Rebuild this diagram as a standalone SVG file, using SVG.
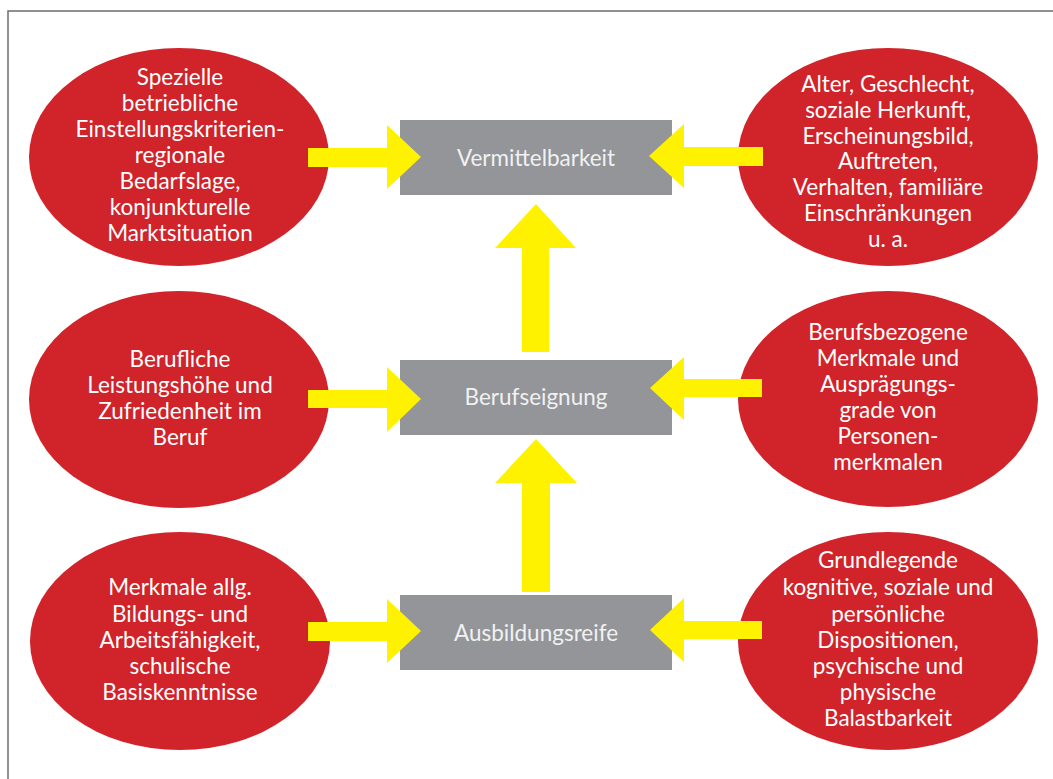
<svg xmlns="http://www.w3.org/2000/svg" width="1053" height="779" viewBox="0 0 1053 779">
<style>
.oval{fill:#d1232a}
.box{fill:#939598}
.arr{fill:#fff200}
.t{font-family:Lato,"Open Sans",sans-serif;font-size:22.5px;fill:#ffffff;text-anchor:middle}
.bt{font-family:Lato,"Open Sans",sans-serif;font-size:22.5px;fill:#f1f1f2;text-anchor:middle}
</style>
<rect x="0" y="0" width="1053" height="779" fill="#ffffff"/>
<rect x="8" y="11" width="1100" height="800" fill="none" stroke="#6d6e71" stroke-width="1.5"/>

<g id="n-vermittelbarkeit">
<rect class="box" x="400" y="120" width="272" height="75"/>
<text class="bt" x="536" y="166">Vermittelbarkeit</text>
</g>
<g id="n-berufseignung">
<rect class="box" x="400" y="360" width="272" height="75"/>
<text class="bt" x="536" y="405">Berufseignung</text>
</g>
<g id="n-ausbildungsreife">
<rect class="box" x="400" y="595" width="272" height="75"/>
<text class="bt" x="536" y="641">Ausbildungsreife</text>
</g>

<g id="n-tl">
<ellipse class="oval" cx="179" cy="157" rx="150" ry="109"/>
<text class="t" x="180" y="85">Spezielle</text>
<text class="t" x="180" y="111">betriebliche</text>
<text class="t" x="180" y="137">Einstellungskriterien-</text>
<text class="t" x="180" y="163">regionale</text>
<text class="t" x="180" y="189">Bedarfslage,</text>
<text class="t" x="180" y="215">konjunkturelle</text>
<text class="t" x="180" y="241">Marktsituation</text>
</g>
<g id="n-tr">
<ellipse class="oval" cx="888" cy="157" rx="150" ry="109"/>
<text class="t" x="888" y="92">Alter, Geschlecht,</text>
<text class="t" x="888" y="118">soziale Herkunft,</text>
<text class="t" x="888" y="144">Erscheinungsbild,</text>
<text class="t" x="888" y="169">Auftreten,</text>
<text class="t" x="888" y="195">Verhalten, familiäre</text>
<text class="t" x="888" y="221">Einschränkungen</text>
<text class="t" x="888" y="247">u. a.</text>
</g>
<g id="n-ml">
<ellipse class="oval" cx="179" cy="399.5" rx="150" ry="108.5"/>
<text class="t" x="180" y="367">Berufliche</text>
<text class="t" x="180" y="393">Leistungshöhe und</text>
<text class="t" x="180" y="419">Zufriedenheit im</text>
<text class="t" x="180" y="445">Beruf</text>
</g>
<g id="n-mr">
<ellipse class="oval" cx="888" cy="399" rx="150" ry="108"/>
<text class="t" x="888" y="340">Berufsbezogene</text>
<text class="t" x="888" y="366">Merkmale und</text>
<text class="t" x="888" y="392">Ausprägungs-</text>
<text class="t" x="888" y="418">grade von</text>
<text class="t" x="888" y="444">Personen-</text>
<text class="t" x="888" y="470">merkmalen</text>
</g>
<g id="n-bl">
<ellipse class="oval" cx="180" cy="641" rx="150" ry="109"/>
<text class="t" x="180" y="595">Merkmale allg.</text>
<text class="t" x="180" y="622">Bildungs- und</text>
<text class="t" x="180" y="648">Arbeitsfähigkeit,</text>
<text class="t" x="180" y="674">schulische</text>
<text class="t" x="180" y="700">Basiskenntnisse</text>
</g>
<g id="n-br">
<ellipse class="oval" cx="888" cy="641" rx="150" ry="109"/>
<text class="t" x="888" y="568">Grundlegende</text>
<text class="t" x="888" y="595">kognitive, soziale und</text>
<text class="t" x="888" y="622">persönliche</text>
<text class="t" x="888" y="648">Dispositionen,</text>
<text class="t" x="888" y="674">psychische und</text>
<text class="t" x="888" y="700">physische</text>
<text class="t" x="888" y="726">Balastbarkeit</text>
</g>

<g id="connectors">
<polygon class="arr" points="308,148 387,148 387,125 421,157 387,189 387,167 308,167"/>
<polygon class="arr" points="763,147 684,147 684,124 649,156 684,188 684,166 763,166"/>
<polygon class="arr" points="308,390 387,390 387,367 421,399 387,432 387,408 308,408"/>
<polygon class="arr" points="762,379 684,379 684,357 650,388 684,420 684,397 762,397"/>
<polygon class="arr" points="308,622 387,622 387,599 421,631 387,663 387,641 308,641"/>
<polygon class="arr" points="762,621 684,621 684,598 650,630 684,662 684,639 762,639"/>
<polygon class="arr" points="522,352 522,248 495,248 536,204 576,248 549,248 549,352"/>
<polygon class="arr" points="522,592 522,483 495,483 536,439 577,483 550,483 550,592"/>
</g>
</svg>
